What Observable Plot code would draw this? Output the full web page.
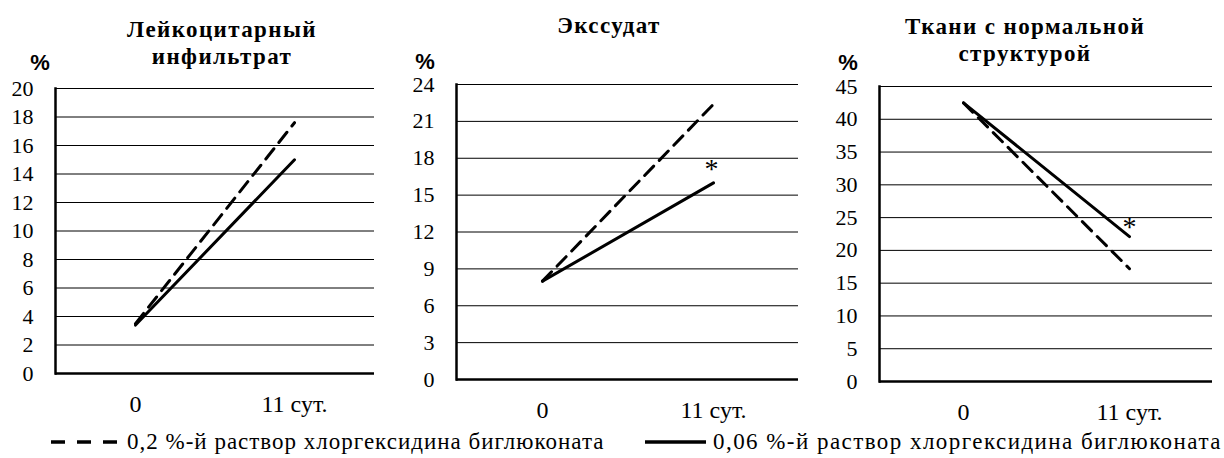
<!DOCTYPE html>
<html>
<head>
<meta charset="utf-8">
<script src="https://cdn.jsdelivr.net/npm/d3@7"></script>
<script src="https://cdn.jsdelivr.net/npm/@observablehq/plot@0.6"></script>
<style>
  body { margin: 0; background: #fff; }
  #wrap { position: relative; width: 1224px; height: 458px; overflow: hidden; background: #fff; font-family: "Liberation Serif", "Times New Roman", Tinos, "DejaVu Serif", serif; color: #000; }
  .panel { position: absolute; }
  .title { position: absolute; font-weight: bold; font-size: 23px; letter-spacing: 1.4px; text-align: center; line-height: 27px; white-space: nowrap; transform: translateX(-50%); }
  .pct { position: absolute; font-family: "Liberation Sans", Arial, sans-serif; font-weight: bold; font-size: 22px; transform: translate(-50%, -50%); }
  .legend { position: absolute; font-size: 23px; white-space: nowrap; display: flex; align-items: center; transform: translateY(-50%); }
  .legend svg { margin-right: 7px; }
</style>
</head>
<body>
<div id="wrap"></div>
<script>
// ---- data ----
const days = ["0", "11 сут."];
const seriesNames = ["0,2 %-й раствор хлоргексидина биглюконата", "0,06 %-й раствор хлоргексидина биглюконата"];

const leuk02 = [3.5, 17.6];
const leuk006 = [3.4, 15.0];
const exud02 = [8.0, 22.4];
const exud006 = [8.0, 16.0];
const norm02 = [42.5, 17.2];
const norm006 = [42.5, 22.1];

const titles = [["Лейкоцитарный", "инфильтрат"], ["Экссудат"], ["Ткани с нормальной", "структурой"]];
const ticks1 = [0, 2, 4, 6, 8, 10, 12, 14, 16, 18, 20];
const ticks2 = [0, 3, 6, 9, 12, 15, 18, 21, 24];
const ticks3 = [0, 5, 10, 15, 20, 25, 30, 35, 40, 45];
const starred = [false, true, true];

const serif = '"Liberation Serif", "Times New Roman", Tinos, "DejaVu Serif", serif';
const wrap = document.getElementById("wrap");

function rows(a, b) {
  return days.flatMap((d, i) => [
    {day: d, value: a[i], s: seriesNames[0]},
    {day: d, value: b[i], s: seriesNames[1]}
  ]);
}

const panels = [
  {a: leuk02, b: leuk006, ticks: ticks1, left: 0, top: 60, width: 380, mL: 55, mR: 6, mT: 28, mB: 67, title: titles[0], tx: 222, tys: 16, px: 40, py: 63, star: starred[0], sdx: 0, sdy: 0},
  {a: exud02, b: exud006, ticks: ticks2, left: 400, top: 60, width: 400, mL: 56, mR: 2, mT: 24, mB: 61, title: titles[1], tx: 609, tys: 12, px: 425, py: 62, star: starred[1], sdx: -2, sdy: -14},
  {a: norm02, b: norm006, ticks: ticks3, left: 810, top: 60, width: 414, mL: 69, mR: 12, mT: 26, mB: 59, title: titles[2], tx: 1025, tys: 13, px: 848, py: 63, star: starred[2], sdx: 0, sdy: -10}
];

for (const p of panels) {
  const data = rows(p.a, p.b);
  const dom = [0, p.ticks[p.ticks.length - 1]];
  const marks = [
    Plot.ruleY(p.ticks.slice(1), {stroke: "#000", strokeWidth: 1}),
    Plot.axisY({ticks: p.ticks, tickSize: 0, tickPadding: 22, fontSize: 22, fontFamily: serif, label: null}),
    Plot.axisX({tickSize: 0, tickPadding: 21, fontSize: 24, fontFamily: serif, label: null}),
    Plot.line(data.filter(d => d.s === seriesNames[0]), {x: "day", y: "value", stroke: "#000", strokeWidth: 3, strokeDasharray: "13,8"}),
    Plot.line(data.filter(d => d.s === seriesNames[1]), {x: "day", y: "value", stroke: "#000", strokeWidth: 3}),
    Plot.ruleY([0], {stroke: "#000", strokeWidth: 2.5}),
    Plot.frame({anchor: "left", stroke: "#000", strokeWidth: 2.5})
  ];
  if (p.star) {
    marks.push(Plot.text(data.filter(d => d.s === seriesNames[1] && d.day === days[1]), {
      x: "day", y: "value", text: () => "*", fontSize: 28, fontFamily: serif, dx: p.sdx, dy: p.sdy, fill: "#000"
    }));
  }
  const chart = Plot.plot({
    width: p.width,
    height: 380,
    marginLeft: p.mL, marginRight: p.mR, marginTop: p.mT, marginBottom: p.mB,
    style: {background: "transparent", color: "#000", overflow: "visible", fontFamily: serif},
    x: {type: "point", domain: days, padding: 0.5},
    y: {domain: dom},
    marks
  });
  const div = document.createElement("div");
  div.className = "panel";
  div.style.left = p.left + "px";
  div.style.top = p.top + "px";
  div.appendChild(chart);
  wrap.appendChild(div);

  const t = document.createElement("div");
  t.className = "title";
  t.style.left = p.tx + "px";
  t.style.top = p.tys + "px";
  t.innerHTML = p.title.join("<br>");
  wrap.appendChild(t);

  const pc = document.createElement("div");
  pc.className = "pct";
  pc.style.left = p.px + "px";
  pc.style.top = p.py + "px";
  pc.textContent = "%";
  wrap.appendChild(pc);
}

// legend
const legendItems = [
  {name: seriesNames[0], dash: "14,12", left: 51, spacing: 1.0},
  {name: seriesNames[1], dash: null, left: 645, spacing: 1.45}
];
for (const li of legendItems) {
  const d = document.createElement("div");
  d.className = "legend";
  d.style.left = li.left + "px";
  d.style.top = "442px";
  d.style.letterSpacing = li.spacing + "px";
  const w = li.dash ? 69 : 61;
  d.innerHTML = `<svg width="${w}" height="10"><line x1="0" x2="${w}" y1="5" y2="5" stroke="#000" stroke-width="3.5" ${li.dash ? `stroke-dasharray="${li.dash}"` : ""}/></svg><span>${li.name}</span>`;
  wrap.appendChild(d);
}
</script>
</body>
</html>
